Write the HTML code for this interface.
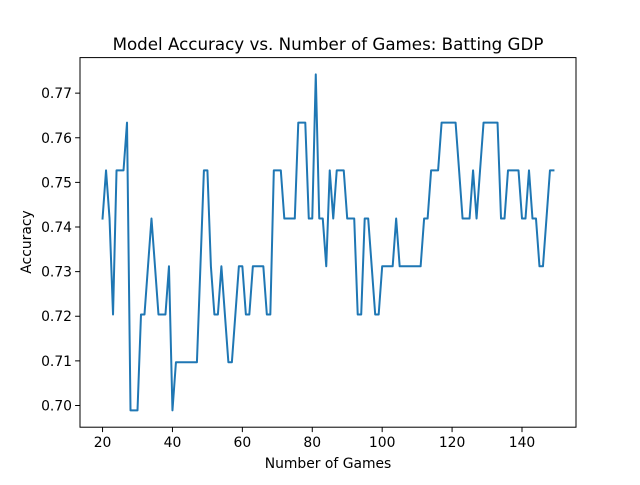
<!DOCTYPE html>
<html><head><meta charset="utf-8"><style>
html,body{margin:0;padding:0;background:#fff;}
svg text{font-family:"DejaVu Sans","Liberation Sans",sans-serif;fill:#000;}
</style></head><body>
<svg id="chart" width="640" height="480" xmlns="http://www.w3.org/2000/svg">
<rect width="640" height="480" fill="#fff"/>
<text x="328" y="50" font-size="16.7" text-anchor="middle">Model Accuracy vs. Number of Games: Batting GDP</text>
<g id="xticks"></g>
<g id="yticks"></g>
<path id="line" fill="none" stroke="#1f77b4" stroke-width="2" stroke-linejoin="round" stroke-linecap="square"/>
<rect x="80" y="57.6" width="496" height="369.6" fill="none" stroke="#000" stroke-width="1"/>
<text x="328" y="468" font-size="13.9" text-anchor="middle">Number of Games</text>
<text transform="translate(31,242) rotate(-90)" font-size="13.9" text-anchor="middle">Accuracy</text>
</svg>
<script>
const games = [20,21,22,23,24,25,26,27,28,29,30,31,32,33,34,35,36,37,38,39,40,41,42,43,44,45,46,47,48,49,50,51,52,53,54,55,56,57,58,59,60,61,62,63,64,65,66,67,68,69,70,71,72,73,74,75,76,77,78,79,80,81,82,83,84,85,86,87,88,89,90,91,92,93,94,95,96,97,98,99,100,101,102,103,104,105,106,107,108,109,110,111,112,113,114,115,116,117,118,119,120,121,122,123,124,125,126,127,128,129,130,131,132,133,134,135,136,137,138,139,140,141,142,143,144,145,146,147,148,149];
const accuracy = [0.7419,0.7527,0.7419,0.7204,0.7527,0.7527,0.7527,0.7634,0.6989,0.6989,0.6989,0.7204,0.7204,0.7312,0.7419,0.7312,0.7204,0.7204,0.7204,0.7312,0.6989,0.7097,0.7097,0.7097,0.7097,0.7097,0.7097,0.7097,0.7312,0.7527,0.7527,0.7312,0.7204,0.7204,0.7312,0.7204,0.7097,0.7097,0.7204,0.7312,0.7312,0.7204,0.7204,0.7312,0.7312,0.7312,0.7312,0.7204,0.7204,0.7527,0.7527,0.7527,0.7419,0.7419,0.7419,0.7419,0.7634,0.7634,0.7634,0.7419,0.7419,0.7742,0.7419,0.7419,0.7312,0.7527,0.7419,0.7527,0.7527,0.7527,0.7419,0.7419,0.7419,0.7204,0.7204,0.7419,0.7419,0.7312,0.7204,0.7204,0.7312,0.7312,0.7312,0.7312,0.7419,0.7312,0.7312,0.7312,0.7312,0.7312,0.7312,0.7312,0.7419,0.7419,0.7527,0.7527,0.7527,0.7634,0.7634,0.7634,0.7634,0.7634,0.7527,0.7419,0.7419,0.7419,0.7527,0.7419,0.7527,0.7634,0.7634,0.7634,0.7634,0.7634,0.7419,0.7419,0.7527,0.7527,0.7527,0.7527,0.7419,0.7419,0.7527,0.7419,0.7419,0.7312,0.7312,0.7419,0.7527,0.7527];
const xTickValues = [20,40,60,80,100,120,140];
const yTickValues = [0.70,0.71,0.72,0.73,0.74,0.75,0.76,0.77];
const yTickLabels = ["0.70","0.71","0.72","0.73","0.74","0.75","0.76","0.77"];

const L=80,R=576,T=57.6,B=427.2;
const xmin0=Math.min(...games), xmax0=Math.max(...games);
const ymin0=Math.min(...accuracy), ymax0=Math.max(...accuracy);
const xm=(xmax0-xmin0)*0.05, ym=(ymax0-ymin0)*0.05;
const xS=v=>L+(v-(xmin0-xm))/((xmax0+xm)-(xmin0-xm))*(R-L);
const yS=v=>B-(v-(ymin0-ym))/((ymax0+ym)-(ymin0-ym))*(B-T);
const NS="http://www.w3.org/2000/svg";
function mk(tag,attrs,parent){const e=document.createElementNS(NS,tag);for(const k in attrs)e.setAttribute(k,attrs[k]);parent.appendChild(e);return e;}

let d="";
games.forEach((g,i)=>{d+=(i?"L":"M")+xS(g).toFixed(2)+","+yS(accuracy[i]).toFixed(2);});
document.getElementById("line").setAttribute("d",d);

const xg=document.getElementById("xticks");
xTickValues.forEach(v=>{
  const x=xS(v);
  const t=mk("line",{x1:x,x2:x,y1:B,y2:B+4.9,stroke:"#000","stroke-width":1},xg);
  
  
  const tx=mk("text",{x:x,y:B+20,"font-size":13.9,"text-anchor":"middle"},xg);
  tx.textContent=String(v);
  
  
});
const yg=document.getElementById("yticks");
yTickValues.forEach((v,i)=>{
  const y=yS(v);
  const t=mk("line",{x1:L-4.9,x2:L,y1:y,y2:y,stroke:"#000","stroke-width":1},yg);
  
  
  const tx=mk("text",{x:L-8,y:y+5,"font-size":13.9,"text-anchor":"end"},yg);
  tx.textContent=yTickLabels[i];
  
  
});
</script>
</body></html>
